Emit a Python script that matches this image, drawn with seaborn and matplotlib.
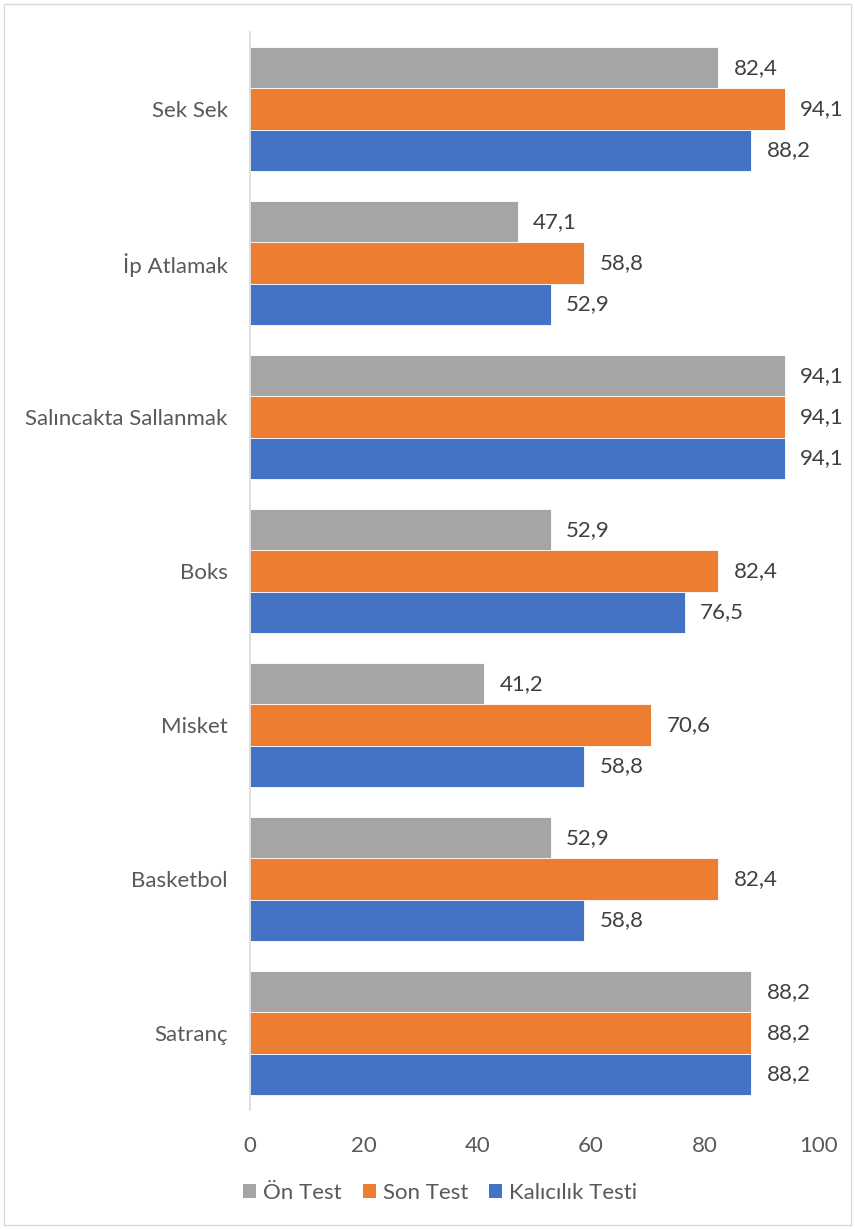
import matplotlib
matplotlib.use("Agg")
import matplotlib.pyplot as plt
import seaborn as sns
import pandas as pd
from matplotlib.patches import Patch, Rectangle

categories = ["Sek Sek", "İp Atlamak", "Salıncakta Sallanmak", "Boks", "Misket", "Basketbol", "Satranç"]
series_names = ["Ön Test", "Son Test", "Kalıcılık Testi"]
on_test = [82.4, 47.1, 94.1, 52.9, 41.2, 52.9, 88.2]
son_test = [94.1, 58.8, 94.1, 82.4, 70.6, 82.4, 88.2]
kalicilik = [88.2, 52.9, 94.1, 76.5, 58.8, 58.8, 88.2]
colors = ["#A5A5A5", "#ED7D31", "#4472C4"]
xticks = [0, 20, 40, 60, 80, 100]

rows = []
for name, vals in zip(series_names, [on_test, son_test, kalicilik]):
    for c, v in zip(categories, vals):
        rows.append({"Kategori": c, "Seri": name, "Deger": v})
df = pd.DataFrame(rows)

sns.set_theme(style="white")
plt.rcParams["font.family"] = ["Lato", "DejaVu Sans"]
text_color = "#595959"
fs = 16

fig = plt.figure(figsize=(8.55, 12.29), dpi=100)
ax = fig.add_axes([250/855, 1 - 1110/1229, (818.5-250)/855, (1110-32)/1229])

sns.barplot(data=df, y="Kategori", x="Deger", hue="Seri", order=categories,
            hue_order=series_names, palette=colors, orient="h", ax=ax,
            width=0.8, edgecolor="white", linewidth=0.6, legend=False, saturation=1)

for container, vals in zip(ax.containers, [on_test, son_test, kalicilik]):
    ax.bar_label(container, labels=[f"{v:.1f}".replace(".", ",") for v in vals],
                 padding=11, fontsize=fs, color="#404040")

ax.set_xlim(0, 100)
ax.set_xticks(xticks)
ax.set_xticklabels([str(t) for t in xticks], fontsize=fs, color=text_color)
ax.tick_params(axis="y", labelsize=fs, labelcolor=text_color, length=0, pad=16)
ax.tick_params(axis="x", length=0, pad=19)
ax.set_xlabel("")
ax.set_ylabel("")
for s in ["top", "right", "bottom"]:
    ax.spines[s].set_visible(False)
ax.spines["left"].set_color("#D9D9D9")
ax.spines["left"].set_linewidth(1.2)
ax.grid(False)

handles = [Patch(facecolor=c, edgecolor="none") for c in colors]
fig.legend(handles, series_names, loc="center", bbox_to_anchor=(440/855, 1 - 1193/1229),
           ncol=3, frameon=False, fontsize=fs, handlelength=0.6, handleheight=0.6,
           handletextpad=0.3, columnspacing=0.95, labelcolor=text_color)

fig.patches.append(Rectangle((4/855, 4/1229), 847/855, 1221/1229, transform=fig.transFigure,
                             fill=False, edgecolor="#D9D9D9", linewidth=1))

fig.savefig("out.png", dpi=100)
